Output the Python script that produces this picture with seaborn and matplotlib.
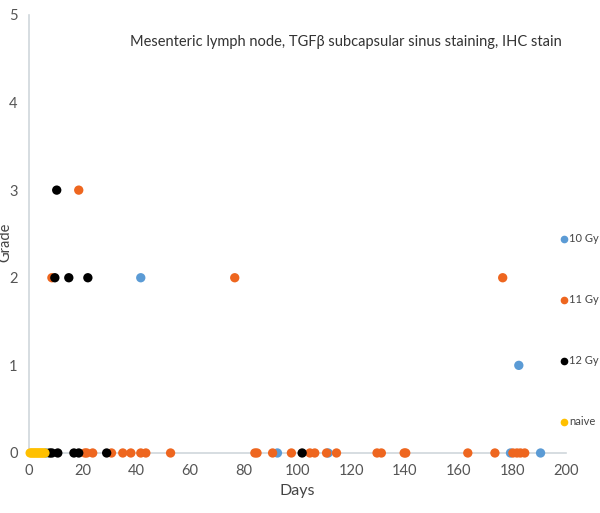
import pandas as pd
import matplotlib.pyplot as plt
import seaborn as sns

# values
gy10_days = [6.5, 41.7, 92.6, 111.5, 179.4, 182.5, 190.6]
gy10_grade = [0, 2, 0, 0, 0, 1, 0]

gy11_days = [8.6, 18.6, 76.7, 176.5, 20.9, 21.6, 23.8, 30.8, 35, 38, 41.7, 43.6, 52.8,
             84.2, 85, 90.8, 97.8, 104.7, 106.5, 110.9, 114.6, 129.7, 131.3, 139.8,
             140.4, 163.5, 173.6, 180.3, 181.8, 183.1, 184.7]
gy11_grade = [2, 3, 2, 2, 0, 0, 0, 0, 0, 0, 0, 0, 0,
              0, 0, 0, 0, 0, 0, 0, 0, 0, 0, 0,
              0, 0, 0, 0, 0, 0, 0]

gy12_days = [10.4, 9.7, 14.9, 22, 7.8, 8.6, 10.8, 16.8, 18.6, 29, 101.8]
gy12_grade = [3, 2, 2, 2, 0, 0, 0, 0, 0, 0, 0]

naive_days = [0.5, 1, 1.5, 2, 2.5, 3, 3.5, 4, 4.5, 5, 5.5, 6]
naive_grade = [0] * len(naive_days)

groups = ['10 Gy', '11 Gy', '12 Gy', 'naive']
colors = ['#5B9BD5', '#EE661F', '#000000', '#FFC000']

df = pd.concat([
    pd.DataFrame({'Days': gy10_days, 'Grade': gy10_grade, 'group': '10 Gy'}),
    pd.DataFrame({'Days': gy11_days, 'Grade': gy11_grade, 'group': '11 Gy'}),
    pd.DataFrame({'Days': gy12_days, 'Grade': gy12_grade, 'group': '12 Gy'}),
    pd.DataFrame({'Days': naive_days, 'Grade': naive_grade, 'group': 'naive'}),
], ignore_index=True)

sns.set_style('white')
plt.rcParams['font.family'] = ['Lato', 'DejaVu Sans']

fig = plt.figure(figsize=(6, 5.13), dpi=100)
ax = fig.add_axes([0.048, 0.117, 0.895, 0.854])

sns.scatterplot(data=df, x='Days', y='Grade', hue='group', hue_order=groups,
                palette=dict(zip(groups, colors)), s=45, linewidth=0, ax=ax,
                legend=False, zorder=3, clip_on=False)

ax.set_xlim(0, 200)
ax.set_ylim(0, 5)
ax.set_xticks(range(0, 201, 20))
ax.set_yticks(range(0, 6))
for s in ['top', 'right']:
    ax.spines[s].set_visible(False)
for s in ['left', 'bottom']:
    ax.spines[s].set_color('#D0D7DC')
    ax.spines[s].set_linewidth(1.2)
ax.tick_params(axis='both', colors='#555555', labelsize=10.5, length=0, pad=8)
ax.set_xlabel('Days', fontsize=11.5, color='#444444', labelpad=4)
ax.set_ylabel('Grade', fontsize=10.5, color='#444444')
ax.yaxis.set_label_coords(-0.03, 0.482)

ax.text(0.59, 0.938, 'Mesenteric lymph node, TGF\u03b2 subcapsular sinus staining, IHC stain',
        transform=ax.transAxes, ha='center', va='center', fontsize=10.5, color='#333333')

handles = [plt.Line2D([], [], marker='o', linestyle='', color=c, markersize=4.5) for c in colors]
fig.legend(handles, groups, loc='upper left', bbox_to_anchor=(0.935, 0.545), frameon=False,
           fontsize=8, labelspacing=4.5, handlelength=0.5, handletextpad=0.25,
           labelcolor='#444444', borderaxespad=0, borderpad=0)

fig.savefig('out.png', dpi=100)
